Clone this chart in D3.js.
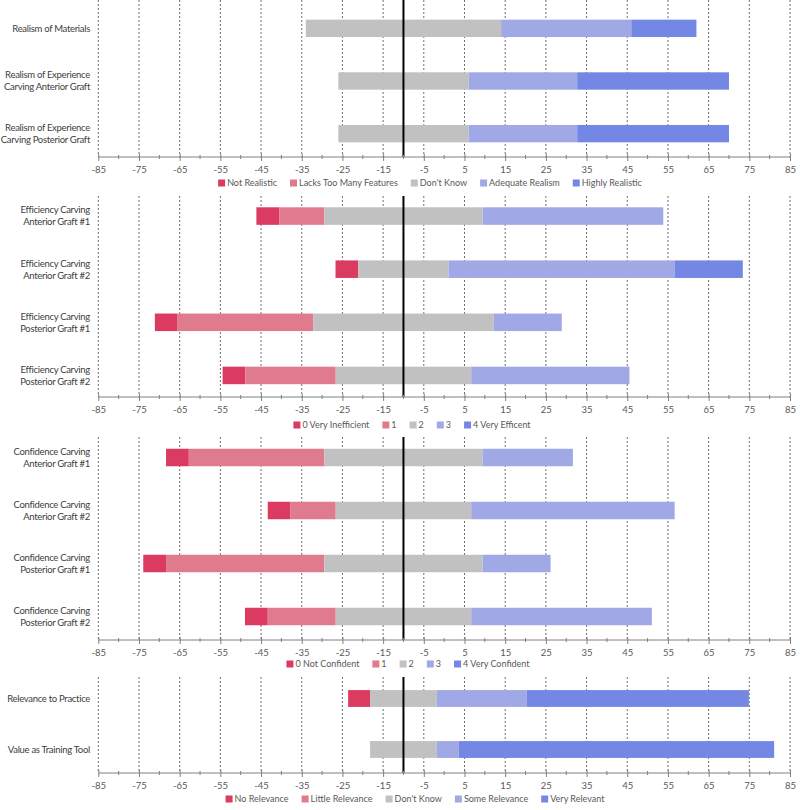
<!DOCTYPE html>
<html>
<head>
<meta charset="utf-8">
<script src="https://cdn.jsdelivr.net/npm/d3@7"></script>
<style>
  html, body { margin: 0; padding: 0; background: #fff; }
  svg { display: block; font-family: Lato, "Open Sans", sans-serif; }
</style>
</head>
<body>
<svg id="chart" width="800" height="810"></svg>
<script>
// ---------------- DATA ----------------
const tickValues = [-85, -75, -65, -55, -45, -35, -25, -15, -5, 5, 15, 25, 35, 45, 55, 65, 75, 85];
const centerValue = -10;

const realismCategories = ["Not Realistic", "Lacks Too Many Features", "Don't Know", "Adequate Realism", "Highly Realistic"];
const realismItems = ["Realism of Materials", "Realism of Experience|Carving Anterior Graft", "Realism of Experience|Carving Posterior Graft"];
const realismValues = [
  [0, 0, 48.0, 32.0, 16.0],
  [0, 0, 32.0, 26.7, 37.3],
  [0, 0, 32.0, 26.7, 37.3]
];

const efficiencyCategories = ["0 Very Inefficient", "1", "2", "3", "4 Very Efficent"];
const efficiencyItems = ["Efficiency Carving|Anterior Graft #1", "Efficiency Carving|Anterior Graft #2", "Efficiency Carving|Posterior Graft #1", "Efficiency Carving|Posterior Graft #2"];
const efficiencyValues = [
  [5.6, 11.1, 38.9, 44.4, 0],
  [5.6, 0, 22.2, 55.6, 16.7],
  [5.6, 33.3, 44.4, 16.7, 0],
  [5.6, 22.2, 33.3, 38.9, 0]
];

const confidenceCategories = ["0 Not Confident", "1", "2", "3", "4 Very Confident"];
const confidenceItems = ["Confidence Carving|Anterior Graft #1", "Confidence Carving|Anterior Graft #2", "Confidence Carving|Posterior Graft #1", "Confidence Carving|Posterior Graft #2"];
const confidenceValues = [
  [5.6, 33.3, 38.9, 22.2, 0],
  [5.6, 11.1, 33.3, 50.0, 0],
  [5.6, 38.9, 38.9, 16.7, 0],
  [5.6, 16.7, 33.3, 44.4, 0]
];

const relevanceCategories = ["No Relevance", "Little Relevance", "Don't Know", "Some Relevance", "Very Relevant"];
const relevanceItems = ["Relevance to Practice", "Value as Training Tool"];
const relevanceValues = [
  [5.4, 0, 16.4, 22.1, 54.6],
  [0, 0, 16.4, 5.4, 77.5]
];

const colors = ["#db3b60", "#e07b8e", "#c1c1c1", "#a0a8e6", "#7487e4"];

// ---------------- LAYOUT ----------------
const panels = [
  { items: realismItems, cats: realismCategories, values: realismValues, bandTop: 2, bandBottom: 160, gridTop: 0, axisY: 157, legendY: 183, legendCx: 430 },
  { items: efficiencyItems, cats: efficiencyCategories, values: efficiencyValues, bandTop: 189.5, bandBottom: 402, gridTop: 196, axisY: 397, legendY: 425, legendCx: 412 },
  { items: confidenceItems, cats: confidenceCategories, values: confidenceValues, bandTop: 431, bandBottom: 643, gridTop: 437, axisY: 640, legendY: 664, legendCx: 408 },
  { items: relevanceItems, cats: relevanceCategories, values: relevanceValues, bandTop: 673, bandBottom: 775, gridTop: 677, axisY: 773, legendY: 799, legendCx: 415 }
];

const svg = d3.select("#chart");
const x = d3.scaleLinear().domain([-85, 85]).range([98.3, 790]);
const minorTicks = d3.range(-80, 81, 10);

panels.forEach(p => {
  const g = svg.append("g");
  const y = d3.scaleBand().domain(d3.range(p.items.length)).range([p.bandTop, p.bandBottom]).paddingInner(0.67).paddingOuter(0.335);

  // gridlines
  g.selectAll("line.grid").data(tickValues).join("line")
    .attr("x1", d => x(d)).attr("x2", d => x(d))
    .attr("y1", p.gridTop).attr("y2", p.axisY)
    .attr("stroke", "#6e6e6e").attr("stroke-width", 1)
    .attr("stroke-dasharray", "2,2");

  // bars
  p.values.forEach((vals, i) => {
    let start = centerValue - vals[2] / 2 - vals[0] - vals[1];
    const segs = [];
    vals.forEach((v, k) => { segs.push({ x0: start, x1: start + v, k }); start += v; });
    g.selectAll(null).data(segs.filter(s => s.x1 - s.x0 > 0)).join("rect")
      .attr("x", s => x(s.x0))
      .attr("width", s => x(s.x1) - x(s.x0))
      .attr("y", y(i))
      .attr("height", y.bandwidth())
      .attr("fill", s => colors[s.k]);
  });

  // center line
  g.append("line")
    .attr("x1", x(centerValue)).attr("x2", x(centerValue))
    .attr("y1", p.gridTop).attr("y2", p.axisY)
    .attr("stroke", "#000").attr("stroke-width", 2);

  // x axis
  const axis = d3.axisBottom(x).tickValues(tickValues).tickSize(4).tickPadding(5).tickFormat(d => String(d));
  const ag = g.append("g").attr("transform", `translate(0,${p.axisY})`).call(axis);
  ag.attr("font-family", null).attr("font-size", null);
  ag.select(".domain").attr("stroke", "#808080").attr("d", `M${x(-85)},0H${x(85)}`);
  ag.selectAll(".tick line").attr("stroke", "#808080").attr("y1", -3).attr("y2", 4);
  ag.selectAll(".tick text").attr("fill", "#595959").style("font-size", "9.5px");
  ag.selectAll("line.minor").data(minorTicks).join("line")
    .attr("class", "minor")
    .attr("x1", d => x(d)).attr("x2", d => x(d))
    .attr("y1", -2).attr("y2", 2).attr("stroke", "#808080");

  // y labels
  p.items.forEach((label, i) => {
    const lines = label.split("|");
    const cy = y(i) + y.bandwidth() / 2;
    const t = g.append("text")
      .attr("text-anchor", "end")
      .attr("fill", "#404040")
      .style("font-size", "9.5px")
      .style("letter-spacing", "-0.3px");
    lines.forEach((ln, j) => {
      t.append("tspan")
        .attr("x", 90)
        .attr("y", cy + (j - (lines.length - 1) / 2) * 12)
        .attr("dy", "0.35em")
        .text(ln);
    });
  });

  // legend
  const lg = g.append("g");
  let cx = 0;
  p.cats.forEach((c, k) => {
    const item = lg.append("g").attr("transform", `translate(${cx},0)`);
    item.append("rect").attr("x", 0).attr("y", -3.5).attr("width", 7).attr("height", 7).attr("fill", colors[k]);
    const t = item.append("text").attr("x", 9).attr("dy", "0.35em")
      .attr("fill", "#595959").style("font-size", "9px").text(c);
    cx += 9 + t.node().getComputedTextLength() + 13;
  });
  const totalW = cx - 13;
  lg.attr("transform", `translate(${p.legendCx - totalW / 2},${p.legendY})`);
});
</script>
</body>
</html>
